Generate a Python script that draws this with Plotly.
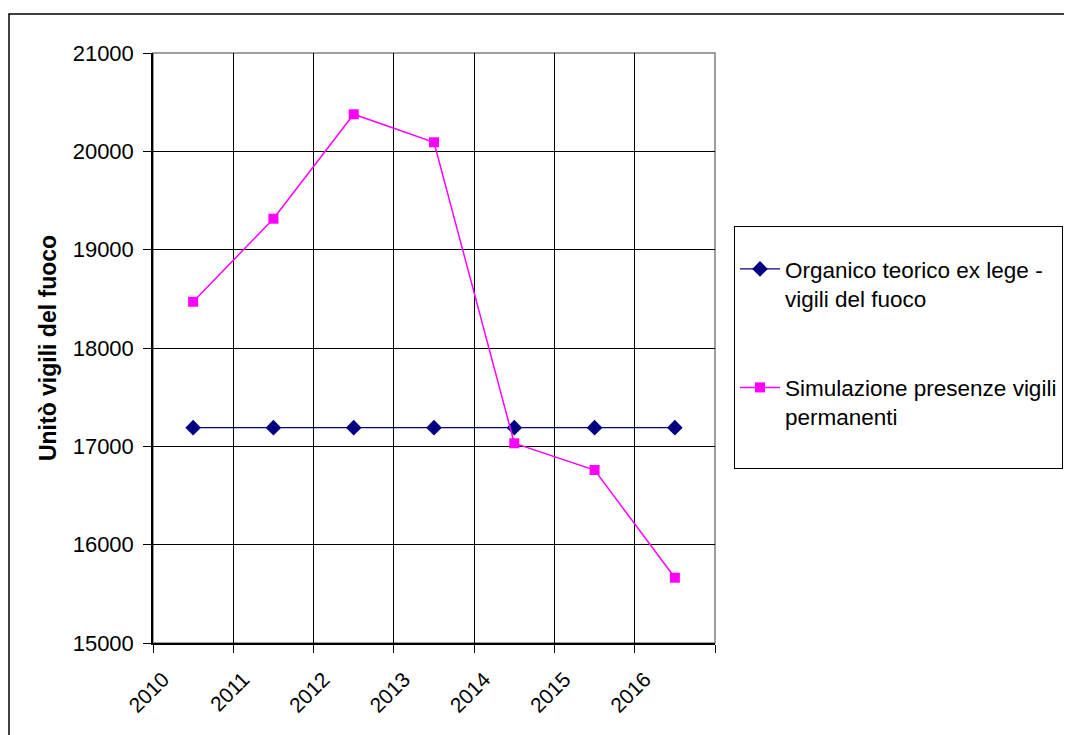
import plotly.graph_objects as go

years = ["2010", "2011", "2012", "2013", "2014", "2015", "2016"]
organico = [17190, 17190, 17190, 17190, 17190, 17190, 17190]
simulazione = [18470, 19315, 20377, 20092, 17031, 16759, 15664]

name_org = "Organico teorico ex lege -<br>vigili del fuoco"
name_sim = "Simulazione presenze vigili<br>permanenti<br>&nbsp;"
y_title = "Unitò vigili del fuoco"

FONT = "Liberation Sans, Arial, sans-serif"

fig = go.Figure()
fig.add_trace(go.Scatter(
    x=years, y=organico, name=name_org, mode="lines+markers",
    line=dict(color="#000080", width=1.2),
    marker=dict(symbol="diamond", size=12, color="#000080"),
    legendgroup="a",
))
fig.add_trace(go.Scatter(
    x=years, y=simulazione, name=name_sim, mode="lines+markers",
    line=dict(color="#FF00FF", width=1.5),
    marker=dict(symbol="square", size=10, color="#FF00FF"),
    legendgroup="b",
))

OFF = 8  # page body margin
L, R, T, B = 153 - OFF, 715 - OFF, 53 - OFF, 643 - OFF
W, H = 1072, 735
pw, ph = R - L, B - T

def px_x(p):
    return (p - OFF - L) / pw

def px_y(p):
    return (B - (p - OFF)) / ph

fig.update_layout(
    width=W, height=H,
    margin=dict(l=L, r=W - R, t=T, b=H - B, autoexpand=False),
    paper_bgcolor="white", plot_bgcolor="white",
    font=dict(family=FONT, size=22, color="black"),
    showlegend=True,
    legend=dict(
        x=px_x(734), y=px_y(226), xanchor="left", yanchor="top",
        bordercolor="black", borderwidth=1, bgcolor="white",
        font=dict(size=22.5), tracegroupgap=57, valign="top",
        itemwidth=40,
        title=dict(text="&nbsp;", font=dict(size=16)),
    ),
    xaxis=dict(
        type="category", tickson="boundaries", range=[-0.5, 6.5],
        showgrid=True, gridcolor="black", gridwidth=1,
        showline=True, linecolor="black", linewidth=1.5,
        ticks="outside", ticklen=8, tickcolor="black",
        tickangle=-45, tickfont=dict(size=21),
        ticklabelshift=-30, ticklabelstandoff=14,
    ),
    yaxis=dict(
        range=[15000, 21000], dtick=1000, tick0=15000, tickformat="d",
        showgrid=True, gridcolor="black", gridwidth=1,
        showline=True, linecolor="black", linewidth=1.5,
        ticks="outside", ticklen=8, tickcolor="black",
        tickfont=dict(size=22), zeroline=False, ticklabelstandoff=5,
        title=dict(text="<b>" + y_title + "</b>", font=dict(size=23), standoff=10),
    ),
    shapes=[
        dict(type="rect", xref="paper", yref="paper", x0=0, x1=1, y0=0, y1=1,
             line=dict(color="#808080", width=1.5), layer="below"),
        dict(type="rect", xref="paper", yref="paper",
             x0=px_x(9), x1=px_x(1200), y0=px_y(14), y1=px_y(900),
             line=dict(color="black", width=1.5)),
    ],
)

fig.write_html("out.html")
